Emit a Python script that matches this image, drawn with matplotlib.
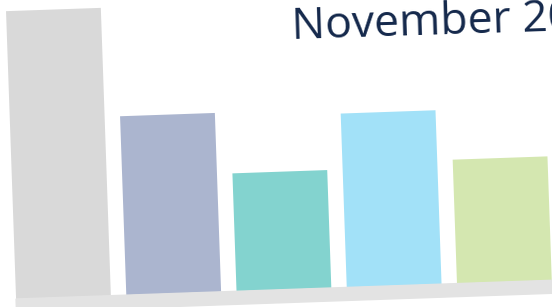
import matplotlib.pyplot as plt
from matplotlib.patches import Rectangle
from matplotlib.transforms import Affine2D

# bar heights (arbitrary units)
categories = ["A", "B", "C", "D", "E"]
values = [288, 179, 118, 174, 124]
colors = ["#d9d9d9", "#abb5cf", "#83d3cf", "#a2e1f8", "#d4e7b0"]
title = "November 2023"

fig = plt.figure(figsize=(5.52, 3.07), dpi=100)
ax = fig.add_axes([0, 0, 1, 1])
ax.set_xlim(-0.5757, 4.429)
ax.set_ylim(-8, 299)
ax.axis("off")

# the whole chart is tilted by ~2 degrees
tilt = Affine2D().rotate_deg_around(16, 8, 2.0)
tr = ax.transData + tilt

xs = range(len(categories))
ax.bar(xs, values, width=0.86, color=colors, transform=tr, clip_on=False)

# grey floor under the bars
ax.add_patch(Rectangle((-0.43, -13), 6, 13, color="#e3e3e3",
                       transform=tr, clip_on=False))

fig.text(292 / 552, 268 / 307, title, fontsize=32, family="Open Sans",
         color="#14284b", rotation=1.8, rotation_mode="anchor",
         ha="left", va="baseline")

fig.savefig("out.png", dpi=100)
